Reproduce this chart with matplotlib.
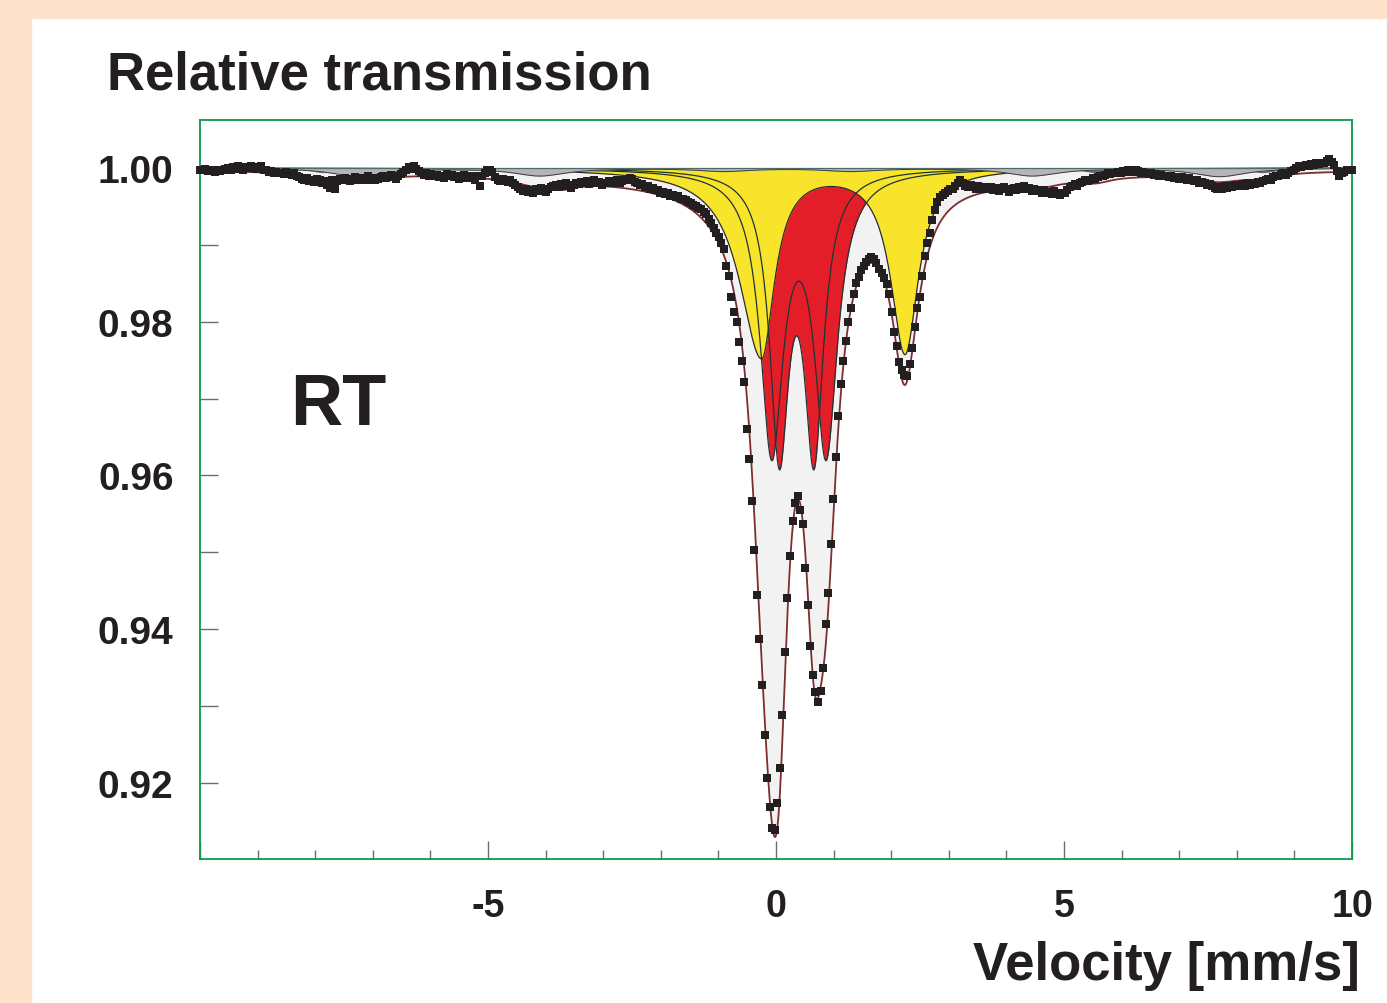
import numpy as np
import matplotlib.pyplot as plt
from matplotlib.patches import Rectangle

plt.rcParams['axes.unicode_minus'] = False

# measured transmission, 454 channels spaced evenly from -10 to +10 mm/s (units of 1e-4)
counts = [
    9998, 9997, 9999, 9996, 9998, 9997, 9995, 9997, 9996, 9998,
    9999, 10000, 9998, 10001, 9999, 10002, 10000, 9998, 10001, 10000,
    10003, 10001, 9999, 10000, 10002, 9998, 9997, 9995, 9996, 9994,
    9995, 9993, 9994, 9992, 9995, 9993, 9991, 9993, 9990, 9988,
    9986, 9984, 9987, 9983, 9985, 9982, 9986, 9984, 9981, 9983,
    9978, 9974, 9985, 9972, 9983, 9986, 9984, 9987, 9985, 9983,
    9986, 9988, 9985, 9987, 9984, 9986, 9989, 9985, 9987, 9984,
    9986, 9988, 9990, 9987, 9989, 9991, 9988, 9986, 9990, 9992,
    9995, 9998, 10001, 9999, 10002, 9999, 9996, 9993, 9991, 9994,
    9990, 9992, 9989, 9991, 9988, 9990, 9987, 9992, 9989, 9991,
    9988, 9990, 9986, 9989, 9991, 9987, 9990, 9988, 9985, 9989,
    9977, 9990, 9993, 9998, 9997, 9995, 9988, 9985, 9983, 9986,
    9984, 9982, 9985, 9980, 9978, 9975, 9973, 9970, 9972, 9969,
    9971, 9968, 9972, 9970, 9974, 9971, 9969, 9973, 9975, 9977,
    9978, 9975, 9979, 9976, 9980, 9977, 9974, 9978, 9981, 9979,
    9982, 9980, 9983, 9979, 9981, 9984, 9980, 9982, 9978, 9981,
    9981, 9983, 9980, 9982, 9984, 9981, 9983, 9985, 9984, 9987,
    9986, 9982, 9981, 9978, 9979, 9975, 9976, 9973, 9974, 9971,
    9971, 9967, 9969, 9966, 9967, 9964, 9965, 9962, 9963, 9960,
    9960, 9958, 9956, 9954, 9952, 9950, 9948, 9946, 9943, 9940,
    9934, 9929, 9922, 9915, 9910, 9902, 9895, 9873, 9860, 9832,
    9813, 9800, 9774, 9749, 9721, 9660, 9621, 9567, 9503, 9444,
    9387, 9328, 9262, 9207, 9169, 9141, 9139, 9174, 9220, 9289,
    9371, 9440, 9495, 9541, 9564, 9573, 9555, 9537, 9479, 9432,
    9378, 9340, 9318, 9305, 9320, 9350, 9407, 9447, 9511, 9569,
    9624, 9677, 9719, 9749, 9775, 9800, 9818, 9836, 9850, 9858,
    9867, 9873, 9878, 9882, 9884, 9882, 9876, 9869, 9863, 9857,
    9849, 9836, 9812, 9786, 9768, 9748, 9737, 9731, 9730, 9745,
    9766, 9793, 9818, 9832, 9860, 9886, 9902, 9915, 9932, 9945,
    9956, 9962, 9965, 9968, 9970, 9972, 9973, 9976, 9980, 9984,
    9981, 9977, 9975, 9978, 9976, 9973, 9977, 9974, 9972, 9975,
    9972, 9975, 9971, 9974, 9970, 9973, 9975, 9972, 9969, 9972,
    9974, 9971, 9975, 9973, 9976, 9972, 9974, 9970, 9973, 9971,
    9970, 9968, 9971, 9967, 9969, 9966, 9970, 9967, 9965, 9968,
    9967, 9971, 9975, 9977, 9979, 9976, 9980, 9982, 9984, 9983,
    9985, 9987, 9986, 9988, 9990, 9989, 9991, 9993, 9992, 9994,
    9993, 9995, 9994, 9996, 9995, 9997, 9996, 9995, 9997, 9996,
    9994, 9995, 9993, 9992, 9994, 9991, 9992, 9990, 9991, 9989,
    9990, 9988, 9989, 9987, 9988, 9986, 9988, 9987, 9985, 9987,
    9985, 9983, 9984, 9981, 9982, 9980, 9978, 9979, 9976, 9974,
    9972, 9975, 9973, 9976, 9974, 9977, 9975, 9978, 9976, 9977,
    9979, 9977, 9980, 9978, 9981, 9979, 9982, 9980, 9983, 9984,
    9986, 9985, 9988, 9990, 9989, 9992, 9993, 9991, 9994, 9996,
    9998, 10000, 10003, 10001, 10002, 10004, 10003, 10005, 10004, 10006,
    10005, 10007, 10006, 10009, 10012, 10008, 10004, 9996, 9990, 9993,
    9995, 9997, 9998, 9997,
]
velocity = np.linspace(-10.0, 10.0, len(counts))
transmission = np.array(counts) / 1e4

# fitted sub-spectra: line positions (mm/s), depths, half widths (mm/s)
sextet_pos = [-7.25, -4.10, -0.90, 1.30, 4.45, 7.70]
sextet_depth = [0.0011, 0.0010, 0.0004, 0.0004, 0.0010, 0.0011]
sextet_hw = 0.55
sextet2_pos = [-7.85, -3.70, 5.55, 8.45]
sextet2_depth = [0.0006, 0.0006, 0.0006, 0.0006]
sextet2_hw = 0.30
background_pos = [0.2]
background_depth = [0.0018]
background_hw = 4.0

red_outer_pos = [-0.075, 0.87]
red_outer_depth = [0.0359, 0.0359]
red_outer_hw = 0.24
red_inner_pos = [0.057, 0.66]
red_inner_depth = [0.0357, 0.0357]
red_inner_hw = 0.20

yellow_pos = [-0.25, 2.24]
yellow_depth = [0.0245, 0.0240]
yellow_hw_right = [0.27, 0.28]
yellow_hw_left = [0.46, 0.30]      # drawn envelope
yellow_fit_hw_left = [0.27, 0.27]  # used in the summed fit


def lorentz(v, pos, depth, hw_left, hw_right=None):
    if hw_right is None:
        hw_right = hw_left
    hl = np.broadcast_to(hw_left, len(pos))
    hr = np.broadcast_to(hw_right, len(pos))
    out = np.zeros_like(v)
    for c, d, a, b in zip(pos, depth, hl, hr):
        g = np.where(v < c, a, b)
        out += d * g**2 / ((v - c)**2 + g**2)
    return out


vv = np.linspace(-10, 10, 4001)
sextet = lorentz(vv, sextet_pos, sextet_depth, sextet_hw)
sextet2 = lorentz(vv, sextet2_pos, sextet2_depth, sextet2_hw)
background = lorentz(vv, background_pos, background_depth, background_hw)
red_outer = lorentz(vv, red_outer_pos, red_outer_depth, red_outer_hw)
red_inner = lorentz(vv, red_inner_pos, red_inner_depth, red_inner_hw)
yellow = lorentz(vv, yellow_pos, yellow_depth, yellow_hw_left, yellow_hw_right)
yellow_fit = lorentz(vv, yellow_pos, yellow_depth, yellow_fit_hw_left, yellow_hw_right)
total = sextet + sextet2 + background + red_outer + red_inner + yellow_fit

fig = plt.figure(figsize=(13.87, 10.04), dpi=100)
fig.patch.set_facecolor('white')
peach = '#fde3cb'
fig.patches.append(Rectangle((0, 0), 31 / 1387, 1, transform=fig.transFigure, color=peach, zorder=0))
fig.patches.append(Rectangle((0, 1 - 19 / 1004), 1, 19 / 1004, transform=fig.transFigure, color=peach, zorder=0))

ax = fig.add_axes([200 / 1387, 1 - 860 / 1004, 1152 / 1387, 739 / 1004])
ax.set_xlim(-10, 10)
ax.set_ylim(0.91011, 1.00624)

ax.fill_between(vv, 1, 1 - total, color='#f2f2f2', lw=0, zorder=1)
for comp in (red_outer, red_inner):
    ax.fill_between(vv, 1, 1 - comp, color='#e41e28', lw=0, zorder=2)
ax.fill_between(vv, 1, 1 - yellow, color='#f8e52b', lw=0, zorder=3)
ax.plot(vv, 1 - yellow, color='#2a2a2a', lw=0.9, zorder=4)
for comp in (red_outer, red_inner):
    ax.plot(vv, 1 - comp, color='#1e3434', lw=0.9, zorder=4)

ax.fill_between(vv, 1, 1 - sextet2, color='#5f6b78', lw=0, zorder=5)
ax.fill_between(vv, 1, 1 - sextet, color='#b3b5b8', lw=0, zorder=5)
ax.plot(vv, 1 - sextet, color='#3c3c3c', lw=0.7, zorder=5)
ax.axhline(1.0, color='#4d6b6b', lw=0.9, zorder=5)

ax.plot(vv, 1 - total, color='#7d2e2e', lw=1.3, zorder=6)
ax.plot(velocity, transmission, 's', ms=5.6, color='#231f20', mew=0, zorder=7, clip_on=False)

for side in ax.spines.values():
    side.set_color('#0a9a4a')
    side.set_linewidth(1.3)

ax.set_xticks([-10, -5, 0, 5, 10])
ax.set_xticklabels(['', '-5', '0', '5', '10'])
ax.set_xticks(np.arange(-10, 11, 1), minor=True)
ax.set_yticks([0.92, 0.94, 0.96, 0.98, 1.00])
ax.set_yticklabels(['0.92', '0.94', '0.96', '0.98', '1.00'])
ax.set_yticks([0.93, 0.95, 0.97, 0.99], minor=True)
ax.tick_params(axis='x', which='major', direction='in', length=13, width=1, color='#6d6e71',
               pad=21, labelsize=27, labelcolor='#231f20')
ax.tick_params(axis='x', which='minor', direction='in', length=6.5, width=1, color='#6d6e71')
ax.tick_params(axis='y', which='both', direction='in', length=13, width=1, color='#6d6e71',
               pad=19, labelsize=28, labelcolor='#231f20')
for lab in ax.get_xticklabels() + ax.get_yticklabels():
    lab.set_family('Liberation Sans')
    lab.set_fontweight('bold')

fig.text(107 / 1387, 1 - 89 / 1004, 'Relative transmission', fontsize=38, fontweight='bold',
         family='Liberation Sans', color='#231f20', ha='left', va='baseline')
fig.text(290 / 1387, 1 - 425 / 1004, 'RT', fontsize=52, fontweight='bold',
         family='Liberation Sans', color='#231f20', ha='left', va='baseline')
fig.text(1360 / 1387, 1 - 980 / 1004, 'Velocity [mm/s]', fontsize=38, fontweight='bold',
         family='Liberation Sans', color='#231f20', ha='right', va='baseline')

fig.savefig('out.png', dpi=100)
